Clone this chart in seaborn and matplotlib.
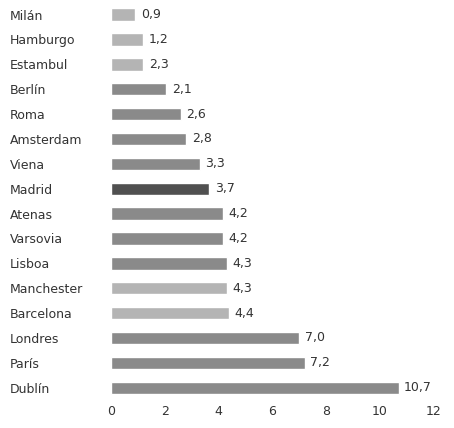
import matplotlib
matplotlib.use("Agg")
import matplotlib.pyplot as plt
import seaborn as sns
import pandas as pd

cities = ["Milán","Hamburgo","Estambul","Berlín","Roma","Amsterdam","Viena","Madrid",
          "Atenas","Varsovia","Lisboa","Manchester","Barcelona","Londres","París","Dublín"]
bar_values = [0.9,1.2,1.2,2.05,2.6,2.8,3.3,3.65,4.15,4.15,4.3,4.3,4.4,7.0,7.2,10.7]
value_labels = ["0,9","1,2","2,3","2,1","2,6","2,8","3,3","3,7","4,2","4,2","4,3","4,3","4,4","7,0","7,2","10,7"]
light, mid, dark = "#b4b4b4", "#8a8a8a", "#505050"
colors = [light,light,light,mid,mid,mid,mid,dark,mid,mid,mid,light,light,mid,mid,mid]

sns.set_style("white")
plt.rcParams['font.family'] = ['DejaVu Sans']
df = pd.DataFrame({"city": cities, "v": bar_values})
fig = plt.figure(figsize=(4.54, 4.28), dpi=100)
ax = fig.add_axes([0.245, 0.065, 0.71, 0.93])
sns.barplot(data=df, y="city", x="v", hue="city", palette=colors, legend=False,
            width=0.5, ax=ax, orient="h")
for i, (v, t) in enumerate(zip(bar_values, value_labels)):
    ax.text(v + 0.2, i, t, va="center", ha="left", fontsize=9, color="#333333")
ax.set_xlim(0, 12)
ax.set_xticks(range(0, 13, 2))
ax.set_xlabel(""); ax.set_ylabel("")
ax.set_yticks(range(len(cities)))
ax.set_yticklabels(cities, ha="left", fontsize=9, color="#333333")
ax.tick_params(axis="y", pad=73, length=0)
ax.tick_params(axis="x", length=0, labelsize=9, colors="#333333")
for s in ax.spines.values():
    s.set_visible(False)
ax.set_ylim(15.5, -0.5)
fig.savefig("out.png", dpi=100)
